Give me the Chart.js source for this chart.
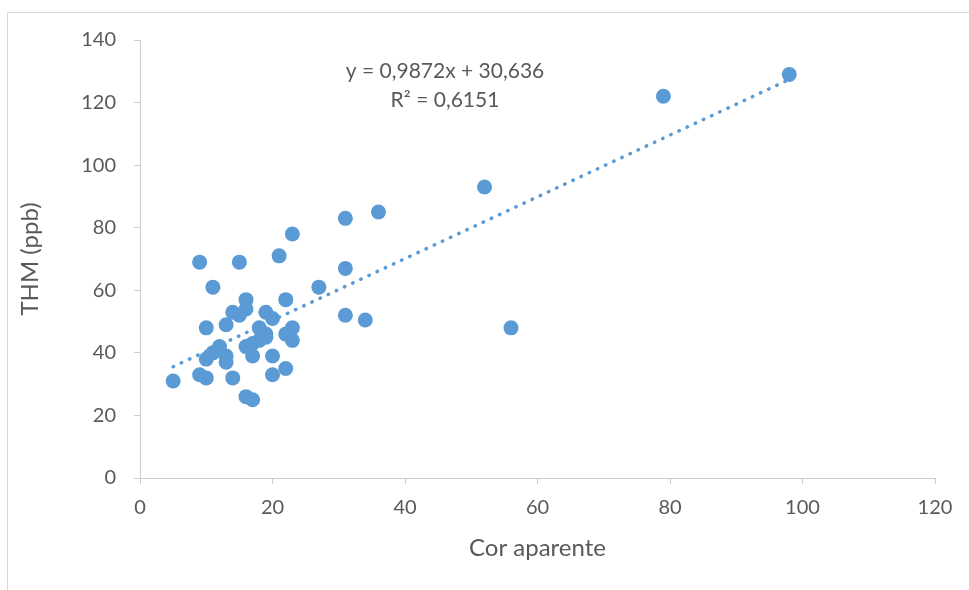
<!DOCTYPE html>
<html>
<head>
<meta charset="utf-8">
<title>THM x Cor aparente</title>
<script src="https://cdn.jsdelivr.net/npm/chart.js@4.4.1/dist/chart.umd.min.js"></script>
<style>
  html, body { margin: 0; padding: 0; background: #ffffff; }
  #wrap { width: 969px; height: 590px; }
</style>
</head>
<body>
<div id="wrap"><canvas id="thmChart" width="969" height="590"></canvas></div>
<script>
// valores
const corAparente = [5, 9, 9, 10, 10, 10, 11, 11, 12, 13, 13, 13, 14, 14, 15, 15, 16, 16, 16, 16,
  17, 17, 17, 18, 18, 19, 19, 19, 20, 20, 20, 21, 22, 22, 22, 23, 23, 23, 27, 31, 31, 31, 34, 36,
  52, 56, 79, 98];
const thm = [31, 69, 33, 48, 38, 32, 61, 40, 42, 49, 39, 37, 53, 32, 69, 52, 57, 54, 42, 26,
  25, 43, 39, 48, 44, 53, 46, 45, 51, 39, 33, 71, 57, 46, 35, 78, 48, 44, 61, 83, 67, 52, 50.5, 85,
  93, 48, 122, 129];

// linha de tendência (pontas)
const trendX = [5, 98];
const trendY = [35.57, 127.38];
const trendLabel = ['y = 0,9872x + 30,636', 'R² = 0,6151'];

const xTicks = [0, 20, 40, 60, 80, 100, 120];
const yTicks = [0, 20, 40, 60, 80, 100, 120, 140];

const FONT = "Lato, Carlito, Calibri, sans-serif";
const TEXT = '#595959';
const AXIS = '#cccccc';
const BLUE = '#5b9bd5';

const points = corAparente.map((x, i) => ({ x: x, y: thm[i] }));
const trend = trendX.map((x, i) => ({ x: x, y: trendY[i] }));

// moldura cinza + texto da equação
const extras = {
  id: 'extras',
  beforeDraw(chart) {
    const ctx = chart.ctx;
    ctx.save();
    ctx.strokeStyle = '#d9d9d9';
    ctx.lineWidth = 1;
    ctx.strokeRect(7.5, 12.5, 2000, 2000);
    ctx.restore();
  },
  afterDraw(chart) {
    const ctx = chart.ctx;
    ctx.save();
    ctx.fillStyle = TEXT;
    ctx.font = "21px " + FONT;
    ctx.textAlign = 'center';
    ctx.textBaseline = 'middle';
    ctx.fillText(trendLabel[0], 445, 71);
    ctx.fillText(trendLabel[1], 445, 100);
    ctx.restore();
  }
};

new Chart(document.getElementById('thmChart').getContext('2d'), {
  type: 'scatter',
  data: {
    datasets: [
      {
        label: 'THM',
        data: points,
        backgroundColor: BLUE,
        borderColor: BLUE,
        pointRadius: 7.5,
        pointBorderWidth: 0,
        order: 2
      },
      {
        label: 'Tendência',
        data: trend,
        showLine: true,
        borderColor: BLUE,
        borderWidth: 3.5,
        borderDash: [0.5, 8.5],
        borderCapStyle: 'round',
        pointRadius: 0,
        fill: false,
        order: 1
      }
    ]
  },
  options: {
    responsive: false,
    animation: false,
    layout: { padding: { left: 0, top: 40, right: 34, bottom: 0 } },
    plugins: {
      legend: { display: false },
      tooltip: { enabled: false }
    },
    scales: {
      x: {
        type: 'linear',
        min: 0,
        max: 120,
        afterBuildTicks: s => { s.ticks = xTicks.map(v => ({ value: v })); },
        afterFit: s => { s.height = 112; },
        ticks: { color: TEXT, font: { family: FONT, size: 20 }, padding: 12 },
        grid: { drawOnChartArea: false, drawTicks: true, tickLength: 6, color: AXIS },
        border: { color: AXIS, width: 1 },
        title: {
          display: true,
          text: 'Cor aparente',
          color: TEXT,
          font: { family: FONT, size: 24 },
          padding: { top: 0, bottom: 27 }
        }
      },
      y: {
        type: 'linear',
        min: 0,
        max: 140,
        afterBuildTicks: s => { s.ticks = yTicks.map(v => ({ value: v })); },
        afterFit: s => { s.width = 140; },
        ticks: { color: TEXT, font: { family: FONT, size: 20 }, padding: 18 },
        grid: { drawOnChartArea: false, drawTicks: true, tickLength: 6, color: AXIS },
        border: { color: AXIS, width: 1 },
        title: {
          display: true,
          text: 'THM (ppb)',
          color: TEXT,
          font: { family: FONT, size: 24 },
          padding: { top: 16, bottom: 0 }
        }
      }
    }
  },
  plugins: [extras]
});
</script>
</body>
</html>
